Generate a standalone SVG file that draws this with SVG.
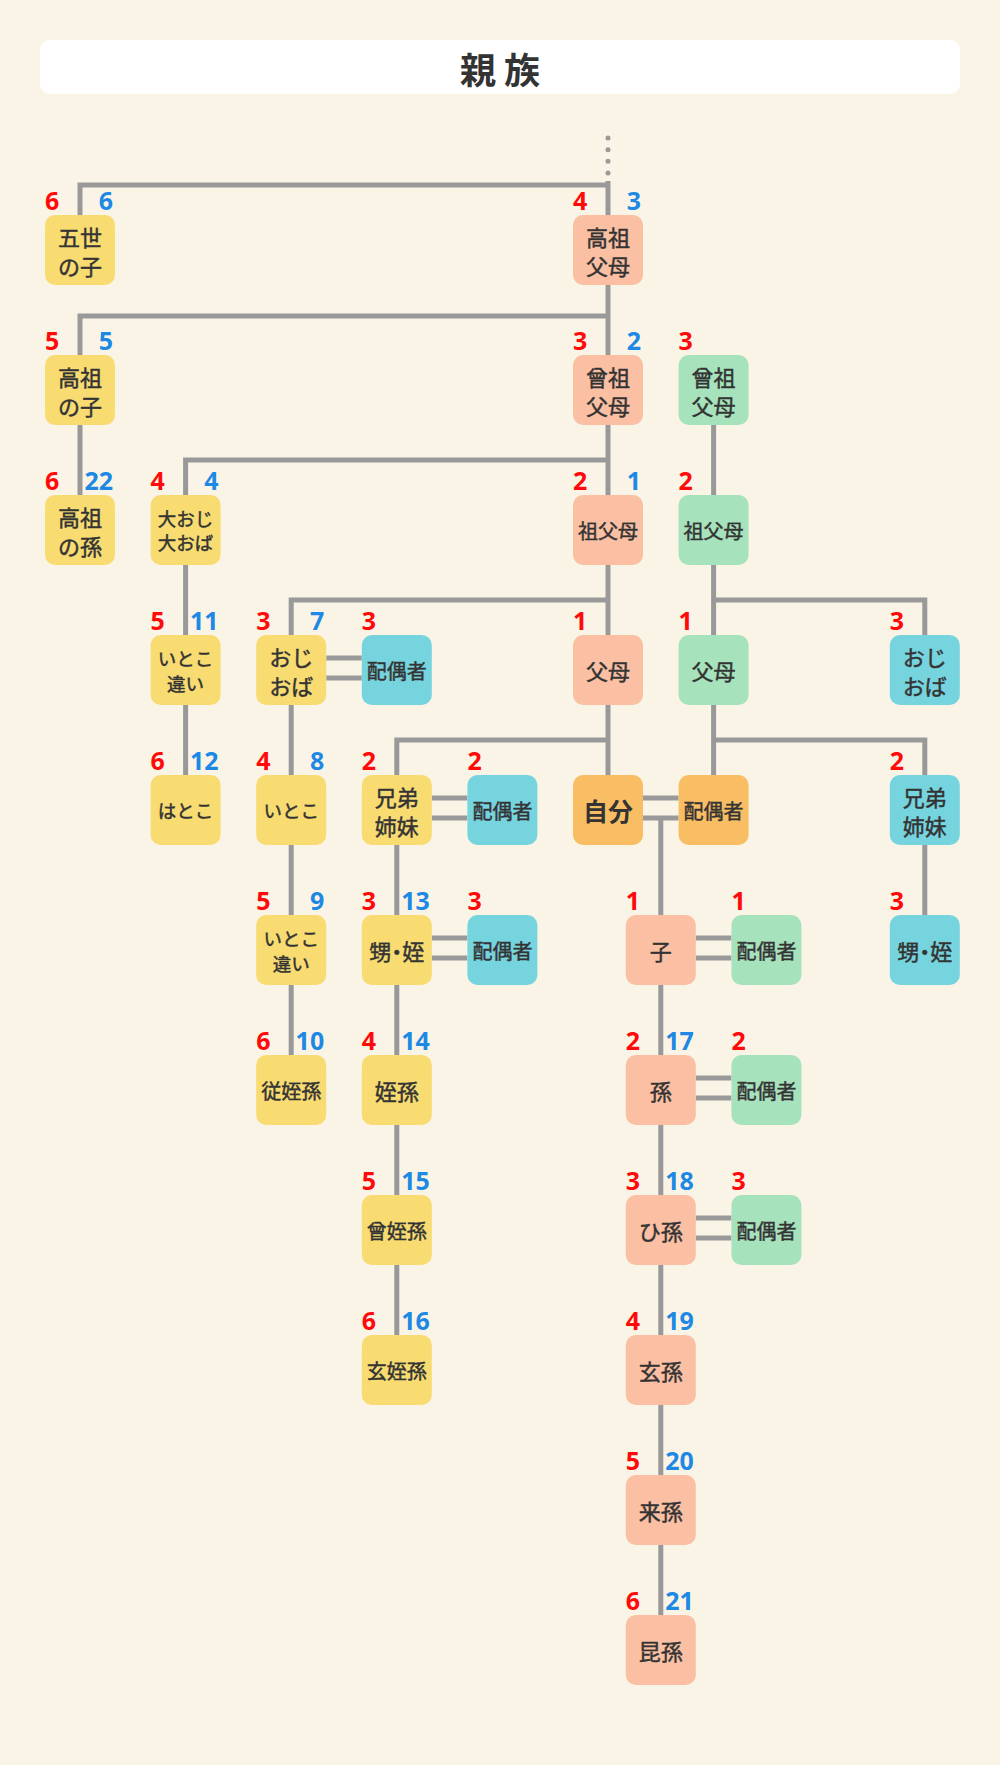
<svg xmlns="http://www.w3.org/2000/svg" width="1000" height="1765" viewBox="0 0 1000 1765">
<style>
.bg{fill:#FAF4E7}
.n{stroke:none}
.y{fill:#F8DC72}
.s{fill:#FBC0A4}
.g{fill:#A6E3BC}
.c{fill:#76D4DE}
.o{fill:#F9BE64}
text{font-family:"Noto Sans CJK JP","Noto Sans",sans-serif;fill:#333333}
.t,.t2,.t3{stroke:#333333;stroke-width:0.45}
.t{font-size:22px;text-anchor:middle;dominant-baseline:central}
.t2{font-size:20px;text-anchor:middle;dominant-baseline:central}
.t3{font-size:18.5px;text-anchor:middle;dominant-baseline:central}
.p{font-feature-settings:"palt"}
.me{font-size:25px;font-weight:700;text-anchor:middle;dominant-baseline:central}
.ti{font-size:36px;font-weight:700;text-anchor:middle;dominant-baseline:central}
.r{font-family:"Noto Sans",sans-serif;font-size:25px;font-weight:700;fill:#FF0A0A;text-anchor:start}
.b{font-family:"Noto Sans",sans-serif;font-size:25px;font-weight:700;fill:#1E88E5;text-anchor:end}
.ln{fill:none;stroke:#999999;stroke-width:5}
.dot{fill:none;stroke:#999999;stroke-width:5;stroke-linecap:round;stroke-dasharray:0 11.67}
</style>
<rect class="bg" x="0" y="0" width="1000" height="1765"/>
<g id="title">
<rect x="40" y="40" width="920" height="54" rx="10" fill="#FFFFFF"/>
<text class="ti" x="500" y="68">親 族</text>
</g>
<g id="connectors">
<line class="dot" x1="608" y1="138" x2="608" y2="174"/>
<path class="ln" d="M80 215V185H608M608 181V215"/>
<path class="ln" d="M608 285V355M80 355V316H608"/>
<path class="ln" d="M80 425V495"/>
<path class="ln" d="M608 425V495M185.6 495V460H608"/>
<path class="ln" d="M713.6 425V495"/>
<path class="ln" d="M185.6 565V635"/>
<path class="ln" d="M608 565V635M291.2 635V600H608"/>
<path class="ln" d="M713.6 565V635M713.6 600H924.8V635"/>
<path class="ln" d="M185.6 705V775"/>
<path class="ln" d="M291.2 705V775"/>
<path class="ln" d="M326.2 658H361.8M326.2 678H361.8"/>
<path class="ln" d="M608 705V775M396.8 775V740H608"/>
<path class="ln" d="M713.6 705V775M713.6 740H924.8V775"/>
<path class="ln" d="M643 798H678.6M643 818H678.6"/>
<path class="ln" d="M431.8 798H467.4M431.8 818H467.4"/>
<path class="ln" d="M660.8 818V915"/>
<path class="ln" d="M291.2 845V915M291.2 985V1055"/>
<path class="ln" d="M396.8 845V915M396.8 985V1055M396.8 1125V1195M396.8 1265V1335"/>
<path class="ln" d="M431.8 938H467.4M431.8 958H467.4"/>
<path class="ln" d="M924.8 845V915"/>
<path class="ln" d="M660.8 985V1055M660.8 1125V1195M660.8 1265V1335M660.8 1405V1475M660.8 1545V1615"/>
<path class="ln" d="M695.8 938H731.4M695.8 958H731.4"/>
<path class="ln" d="M695.8 1078H731.4M695.8 1098H731.4"/>
<path class="ln" d="M695.8 1218H731.4M695.8 1238H731.4"/>
</g>
<g id="n-goseinoko"><rect class="n y" x="45" y="215" width="70" height="70" rx="10"/><text class="t" x="80" y="236">五世</text><text class="t" x="80" y="265">の子</text><text class="r" x="45" y="210">6</text><text class="b" x="113" y="210">6</text></g>
<g id="n-kousofubo"><rect class="n s" x="573" y="215" width="70" height="70" rx="10"/><text class="t" x="608" y="236">高祖</text><text class="t" x="608" y="265">父母</text><text class="r" x="573" y="210">4</text><text class="b" x="641" y="210">3</text></g>
<g id="n-kousonoko"><rect class="n y" x="45" y="355" width="70" height="70" rx="10"/><text class="t" x="80" y="376">高祖</text><text class="t" x="80" y="405">の子</text><text class="r" x="45" y="350">5</text><text class="b" x="113" y="350">5</text></g>
<g id="n-sousofubo"><rect class="n s" x="573" y="355" width="70" height="70" rx="10"/><text class="t" x="608" y="376">曾祖</text><text class="t" x="608" y="405">父母</text><text class="r" x="573" y="350">3</text><text class="b" x="641" y="350">2</text></g>
<g id="n-sousofubo2"><rect class="n g" x="678.6" y="355" width="70" height="70" rx="10"/><text class="t" x="713.6" y="376">曾祖</text><text class="t" x="713.6" y="405">父母</text><text class="r" x="678.6" y="350">3</text></g>
<g id="n-kousonomago"><rect class="n y" x="45" y="495" width="70" height="70" rx="10"/><text class="t" x="80" y="516">高祖</text><text class="t" x="80" y="545">の孫</text><text class="r" x="45" y="490">6</text><text class="b" x="113" y="490">22</text></g>
<g id="n-ooji"><rect class="n y" x="150.6" y="495" width="70" height="70" rx="10"/><text class="t3" x="185.6" y="518">大おじ</text><text class="t3" x="185.6" y="542">大おば</text><text class="r" x="150.6" y="490">4</text><text class="b" x="218.6" y="490">4</text></g>
<g id="n-sofubo"><rect class="n s" x="573" y="495" width="70" height="70" rx="10"/><text class="t2" x="608" y="530">祖父母</text><text class="r" x="573" y="490">2</text><text class="b" x="641" y="490">1</text></g>
<g id="n-sofubo2"><rect class="n g" x="678.6" y="495" width="70" height="70" rx="10"/><text class="t2" x="713.6" y="530">祖父母</text><text class="r" x="678.6" y="490">2</text></g>
<g id="n-itokochigai1"><rect class="n y" x="150.6" y="635" width="70" height="70" rx="10"/><text class="t3" x="185.6" y="658">いとこ</text><text class="t3" x="185.6" y="683">違い</text><text class="r" x="150.6" y="630">5</text><text class="b" x="218.6" y="630">11</text></g>
<g id="n-ojioba"><rect class="n y" x="256.2" y="635" width="70" height="70" rx="10"/><text class="t" x="291.2" y="656">おじ</text><text class="t" x="291.2" y="685">おば</text><text class="r" x="256.2" y="630">3</text><text class="b" x="324.2" y="630">7</text></g>
<g id="n-haigusha-ojioba"><rect class="n c" x="361.8" y="635" width="70" height="70" rx="10"/><text class="t2" x="396.8" y="670">配偶者</text><text class="r" x="361.8" y="630">3</text></g>
<g id="n-fubo"><rect class="n s" x="573" y="635" width="70" height="70" rx="10"/><text class="t" x="608" y="670">父母</text><text class="r" x="573" y="630">1</text></g>
<g id="n-fubo2"><rect class="n g" x="678.6" y="635" width="70" height="70" rx="10"/><text class="t" x="713.6" y="670">父母</text><text class="r" x="678.6" y="630">1</text></g>
<g id="n-ojioba2"><rect class="n c" x="889.8" y="635" width="70" height="70" rx="10"/><text class="t" x="924.8" y="656">おじ</text><text class="t" x="924.8" y="685">おば</text><text class="r" x="889.8" y="630">3</text></g>
<g id="n-hatoko"><rect class="n y" x="150.6" y="775" width="70" height="70" rx="10"/><text class="t3" x="185.6" y="810">はとこ</text><text class="r" x="150.6" y="770">6</text><text class="b" x="218.6" y="770">12</text></g>
<g id="n-itoko"><rect class="n y" x="256.2" y="775" width="70" height="70" rx="10"/><text class="t3" x="291.2" y="810">いとこ</text><text class="r" x="256.2" y="770">4</text><text class="b" x="324.2" y="770">8</text></g>
<g id="n-kyoudai"><rect class="n y" x="361.8" y="775" width="70" height="70" rx="10"/><text class="t" x="396.8" y="796">兄弟</text><text class="t" x="396.8" y="825">姉妹</text><text class="r" x="361.8" y="770">2</text></g>
<g id="n-haigusha-kyoudai"><rect class="n c" x="467.4" y="775" width="70" height="70" rx="10"/><text class="t2" x="502.4" y="810">配偶者</text><text class="r" x="467.4" y="770">2</text></g>
<g id="n-jibun"><rect class="n o" x="573" y="775" width="70" height="70" rx="10"/><text class="me" x="608" y="810">自分</text></g>
<g id="n-haigusha-jibun"><rect class="n o" x="678.6" y="775" width="70" height="70" rx="10"/><text class="t2" x="713.6" y="810">配偶者</text></g>
<g id="n-kyoudai2"><rect class="n c" x="889.8" y="775" width="70" height="70" rx="10"/><text class="t" x="924.8" y="796">兄弟</text><text class="t" x="924.8" y="825">姉妹</text><text class="r" x="889.8" y="770">2</text></g>
<g id="n-itokochigai2"><rect class="n y" x="256.2" y="915" width="70" height="70" rx="10"/><text class="t3" x="291.2" y="938">いとこ</text><text class="t3" x="291.2" y="963">違い</text><text class="r" x="256.2" y="910">5</text><text class="b" x="324.2" y="910">9</text></g>
<g id="n-oimei"><rect class="n y" x="361.8" y="915" width="70" height="70" rx="10"/><text class="t p" x="396.8" y="950">甥・姪</text><text class="r" x="361.8" y="910">3</text><text class="b" x="429.8" y="910">13</text></g>
<g id="n-haigusha-oimei"><rect class="n c" x="467.4" y="915" width="70" height="70" rx="10"/><text class="t2" x="502.4" y="950">配偶者</text><text class="r" x="467.4" y="910">3</text></g>
<g id="n-ko"><rect class="n s" x="625.8" y="915" width="70" height="70" rx="10"/><text class="t" x="660.8" y="950">子</text><text class="r" x="625.8" y="910">1</text></g>
<g id="n-haigusha-ko"><rect class="n g" x="731.4" y="915" width="70" height="70" rx="10"/><text class="t2" x="766.4" y="950">配偶者</text><text class="r" x="731.4" y="910">1</text></g>
<g id="n-oimei2"><rect class="n c" x="889.8" y="915" width="70" height="70" rx="10"/><text class="t p" x="924.8" y="950">甥・姪</text><text class="r" x="889.8" y="910">3</text></g>
<g id="n-juteison"><rect class="n y" x="256.2" y="1055" width="70" height="70" rx="10"/><text class="t2" x="291.2" y="1090">従姪孫</text><text class="r" x="256.2" y="1050">6</text><text class="b" x="324.2" y="1050">10</text></g>
<g id="n-teison"><rect class="n y" x="361.8" y="1055" width="70" height="70" rx="10"/><text class="t" x="396.8" y="1090">姪孫</text><text class="r" x="361.8" y="1050">4</text><text class="b" x="429.8" y="1050">14</text></g>
<g id="n-mago"><rect class="n s" x="625.8" y="1055" width="70" height="70" rx="10"/><text class="t" x="660.8" y="1090">孫</text><text class="r" x="625.8" y="1050">2</text><text class="b" x="693.8" y="1050">17</text></g>
<g id="n-haigusha-mago"><rect class="n g" x="731.4" y="1055" width="70" height="70" rx="10"/><text class="t2" x="766.4" y="1090">配偶者</text><text class="r" x="731.4" y="1050">2</text></g>
<g id="n-souteison"><rect class="n y" x="361.8" y="1195" width="70" height="70" rx="10"/><text class="t2" x="396.8" y="1230">曾姪孫</text><text class="r" x="361.8" y="1190">5</text><text class="b" x="429.8" y="1190">15</text></g>
<g id="n-himago"><rect class="n s" x="625.8" y="1195" width="70" height="70" rx="10"/><text class="t" x="660.8" y="1230">ひ孫</text><text class="r" x="625.8" y="1190">3</text><text class="b" x="693.8" y="1190">18</text></g>
<g id="n-haigusha-himago"><rect class="n g" x="731.4" y="1195" width="70" height="70" rx="10"/><text class="t2" x="766.4" y="1230">配偶者</text><text class="r" x="731.4" y="1190">3</text></g>
<g id="n-genteison"><rect class="n y" x="361.8" y="1335" width="70" height="70" rx="10"/><text class="t2" x="396.8" y="1370">玄姪孫</text><text class="r" x="361.8" y="1330">6</text><text class="b" x="429.8" y="1330">16</text></g>
<g id="n-genson"><rect class="n s" x="625.8" y="1335" width="70" height="70" rx="10"/><text class="t" x="660.8" y="1370">玄孫</text><text class="r" x="625.8" y="1330">4</text><text class="b" x="693.8" y="1330">19</text></g>
<g id="n-raison"><rect class="n s" x="625.8" y="1475" width="70" height="70" rx="10"/><text class="t" x="660.8" y="1510">来孫</text><text class="r" x="625.8" y="1470">5</text><text class="b" x="693.8" y="1470">20</text></g>
<g id="n-konson"><rect class="n s" x="625.8" y="1615" width="70" height="70" rx="10"/><text class="t" x="660.8" y="1650">昆孫</text><text class="r" x="625.8" y="1610">6</text><text class="b" x="693.8" y="1610">21</text></g>
</svg>
